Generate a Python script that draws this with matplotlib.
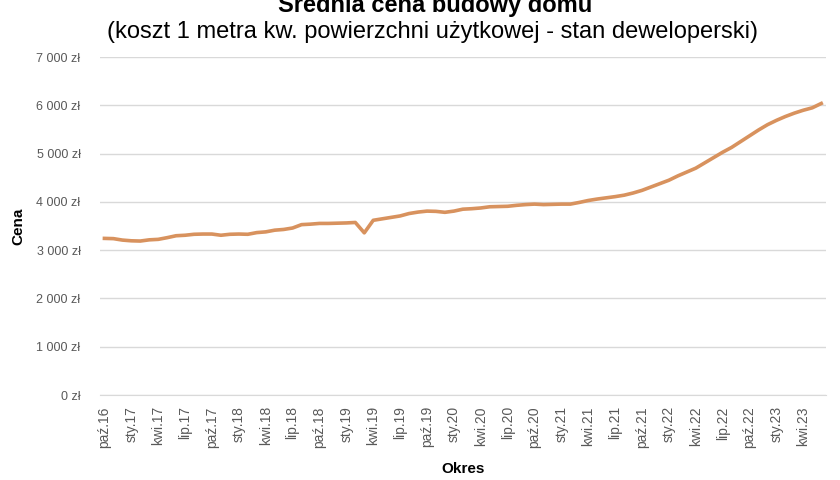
import numpy as np
import matplotlib
matplotlib.use("Agg")
import matplotlib.pyplot as plt
from matplotlib.ticker import FuncFormatter

# Okres: od paź.16 do cze.23, dane miesięczne
okres = ["paź.16", "lis.16", "gru.16",
         "sty.17", "lut.17", "mar.17", "kwi.17", "maj.17", "cze.17",
         "lip.17", "sie.17", "wrz.17", "paź.17", "lis.17", "gru.17",
         "sty.18", "lut.18", "mar.18", "kwi.18", "maj.18", "cze.18",
         "lip.18", "sie.18", "wrz.18", "paź.18", "lis.18", "gru.18",
         "sty.19", "lut.19", "mar.19", "kwi.19", "maj.19", "cze.19",
         "lip.19", "sie.19", "wrz.19", "paź.19", "lis.19", "gru.19",
         "sty.20", "lut.20", "mar.20", "kwi.20", "maj.20", "cze.20",
         "lip.20", "sie.20", "wrz.20", "paź.20", "lis.20", "gru.20",
         "sty.21", "lut.21", "mar.21", "kwi.21", "maj.21", "cze.21",
         "lip.21", "sie.21", "wrz.21", "paź.21", "lis.21", "gru.21",
         "sty.22", "lut.22", "mar.22", "kwi.22", "maj.22", "cze.22",
         "lip.22", "sie.22", "wrz.22", "paź.22", "lis.22", "gru.22",
         "sty.23", "lut.23", "mar.23", "kwi.23", "maj.23", "cze.23"]

cena = [3245, 3240, 3210,
        3195, 3190, 3215, 3225, 3260, 3300,
        3310, 3330, 3335, 3335, 3310, 3330,
        3335, 3330, 3365, 3380, 3415, 3430,
        3460, 3530, 3540, 3555, 3555, 3560,
        3565, 3575, 3360, 3620, 3650, 3680,
        3710, 3760, 3790, 3810, 3805, 3785,
        3810, 3850, 3860, 3875, 3900, 3905,
        3910, 3930, 3945, 3955, 3945, 3950,
        3955, 3955, 3990, 4030, 4060, 4085,
        4110, 4140, 4185, 4240, 4310, 4380,
        4450, 4540, 4620, 4700, 4810, 4920,
        5030, 5130, 5250, 5370, 5490, 5600,
        5690, 5770, 5840, 5900, 5950, 6040]

y_ticks = [0, 1000, 2000, 3000, 4000, 5000, 6000, 7000]

plt.rcParams['font.family'] = ['Liberation Sans', 'DejaVu Sans']

fig = plt.figure(figsize=(8.4, 4.8), dpi=100)
ax = fig.add_axes([0.119, 0.177, 0.864, 0.704])

x = np.arange(len(okres))
ax.plot(x, cena, color='#D8925E', lw=2.6, solid_joinstyle='round', zorder=3)

ax.set_xlim(-0.5, len(okres) - 0.5)
ax.set_ylim(0, 7000)
ax.set_yticks(y_ticks)
ax.yaxis.set_major_formatter(FuncFormatter(lambda v, p: f"{int(v):,}".replace(",", " ") + " zł"))
ax.set_xticks(x[::3])
ax.set_xticklabels(okres[::3], rotation=90)

ax.grid(axis='y', color='#D9D9D9', lw=1)
ax.set_axisbelow(True)
for s in ['top', 'right', 'left']:
    ax.spines[s].set_visible(False)
ax.spines['bottom'].set_color('#D9D9D9')
ax.tick_params(length=0, labelsize=9, colors='#595959')
ax.tick_params(axis='x', pad=8, labelsize=10)
ax.tick_params(axis='y', pad=14)

ax.set_ylabel('Cena', fontsize=11, fontweight='bold', labelpad=8)
ax.set_xlabel('Okres', fontsize=11, fontweight='bold', labelpad=10)

fig.text(0.518, 1 - 4 / 480, 'Średnia cena budowy domu', ha='center', va='center',
         fontsize=17, fontweight='bold', color='#000000')
fig.text(0.515, 1 - 32 / 480, '(koszt 1 metra kw. powierzchni użytkowej - stan deweloperski)',
         ha='center', va='center', fontsize=17, color='#000000')

fig.savefig('out.png', dpi=100)
